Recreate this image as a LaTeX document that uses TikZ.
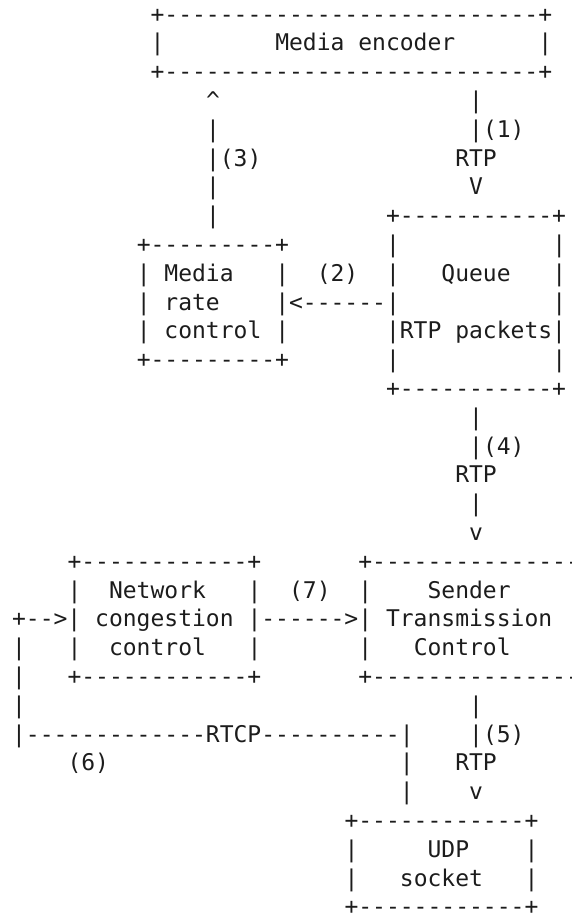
\documentclass[tikz,border=0pt]{standalone}
\usepackage{fontspec}
\setmonofont{DejaVu Sans Mono}
\definecolor{ink}{RGB}{28,28,28}
\newcommand\ascseg[4]{\node[asc] (#1) at ({12.1+13.85*#2},{-22-28.8*#3}) {#4};}
\begin{document}
\begin{tikzpicture}[x=1pt,y=1pt,
  asc/.style={anchor=base west, inner sep=0pt, outer sep=0pt,
    font=\ttfamily\fontsize{23}{28}\selectfont, text=ink}]
\useasboundingbox (0,0) rectangle (571,-913);
\clip (0,0) rectangle (571,-913);
% Media encoder
\ascseg{encT}{10}{0}{+---------------------------+}
\ascseg{encL}{10}{1}{|}
\ascseg{enc}{19}{1}{Media encoder}
\ascseg{encR}{38}{1}{|}
\ascseg{encB}{10}{2}{+---------------------------+}
% links (3) and (1)
\ascseg{upA}{14}{3}{\textasciicircum}
\ascseg{dnA}{33}{3}{|}
\ascseg{upB}{14}{4}{|}
\ascseg{dnB}{33}{4}{|(1)}
\ascseg{upC}{14}{5}{|(3)}
\ascseg{rtpA}{32}{5}{RTP}
\ascseg{upD}{14}{6}{|}
\ascseg{dnC}{33}{6}{V}
\ascseg{upE}{14}{7}{|}
% Queue
\ascseg{qT}{27}{7}{+-----------+}
\ascseg{mrT}{9}{8}{+---------+}
\ascseg{qL1}{27}{8}{|}
\ascseg{qR1}{39}{8}{|}
\ascseg{mrL1}{9}{9}{|}
\ascseg{mr1}{11}{9}{Media}
\ascseg{mrR1}{19}{9}{|}
\ascseg{lab2}{22}{9}{(2)}
\ascseg{qL2}{27}{9}{|}
\ascseg{q1}{31}{9}{Queue}
\ascseg{qR2}{39}{9}{|}
\ascseg{mrL2}{9}{10}{|}
\ascseg{mr2}{11}{10}{rate}
\ascseg{arr2}{19}{10}{|<------|}
\ascseg{qR3}{39}{10}{|}
\ascseg{mrL3}{9}{11}{|}
\ascseg{mr3}{11}{11}{control}
\ascseg{mrR3}{19}{11}{|}
\ascseg{q2}{27}{11}{|RTP packets|}
\ascseg{mrB}{9}{12}{+---------+}
\ascseg{qL4}{27}{12}{|}
\ascseg{qR4}{39}{12}{|}
\ascseg{qB}{27}{13}{+-----------+}
% link (4)
\ascseg{l4a}{33}{14}{|}
\ascseg{l4b}{33}{15}{|(4)}
\ascseg{rtpB}{32}{16}{RTP}
\ascseg{l4c}{33}{17}{|}
\ascseg{l4d}{33}{18}{v}
% Network congestion control and Sender Transmission Control
\ascseg{ncT}{4}{19}{+------------+}
\ascseg{stT}{25}{19}{+-----------------}
\ascseg{ncL1}{4}{20}{|}
\ascseg{nc1}{7}{20}{Network}
\ascseg{ncR1}{17}{20}{|}
\ascseg{lab7}{20}{20}{(7)}
\ascseg{stL1}{25}{20}{|}
\ascseg{st1}{30}{20}{Sender}
\ascseg{fb}{0}{21}{+-->|}
\ascseg{nc2}{6}{21}{congestion}
\ascseg{arr7}{17}{21}{|------>|}
\ascseg{st2}{27}{21}{Transmission}
\ascseg{fbA}{0}{22}{|}
\ascseg{ncL3}{4}{22}{|}
\ascseg{nc3}{7}{22}{control}
\ascseg{ncR3}{17}{22}{|}
\ascseg{stL3}{25}{22}{|}
\ascseg{st3}{29}{22}{Control}
\ascseg{fbB}{0}{23}{|}
\ascseg{ncB}{4}{23}{+------------+}
\ascseg{stB}{25}{23}{+-----------------}
\ascseg{fbC}{0}{24}{|}
\ascseg{l5a}{33}{24}{|}
% RTCP feedback and link (5)
\ascseg{rtcp}{0}{25}{|-------------RTCP----------|}
\ascseg{l5b}{33}{25}{|(5)}
\ascseg{lab6}{4}{26}{(6)}
\ascseg{rtcpA}{28}{26}{|}
\ascseg{rtpC}{32}{26}{RTP}
\ascseg{rtcpB}{28}{27}{|}
\ascseg{l5c}{33}{27}{v}
% UDP socket
\ascseg{udpT}{24}{28}{+------------+}
\ascseg{udpL1}{24}{29}{|}
\ascseg{udp1}{30}{29}{UDP}
\ascseg{udpR1}{37}{29}{|}
\ascseg{udpL2}{24}{30}{|}
\ascseg{udp2}{28}{30}{socket}
\ascseg{udpR2}{37}{30}{|}
\ascseg{udpB}{24}{31}{+------------+}
\end{tikzpicture}
\end{document}
